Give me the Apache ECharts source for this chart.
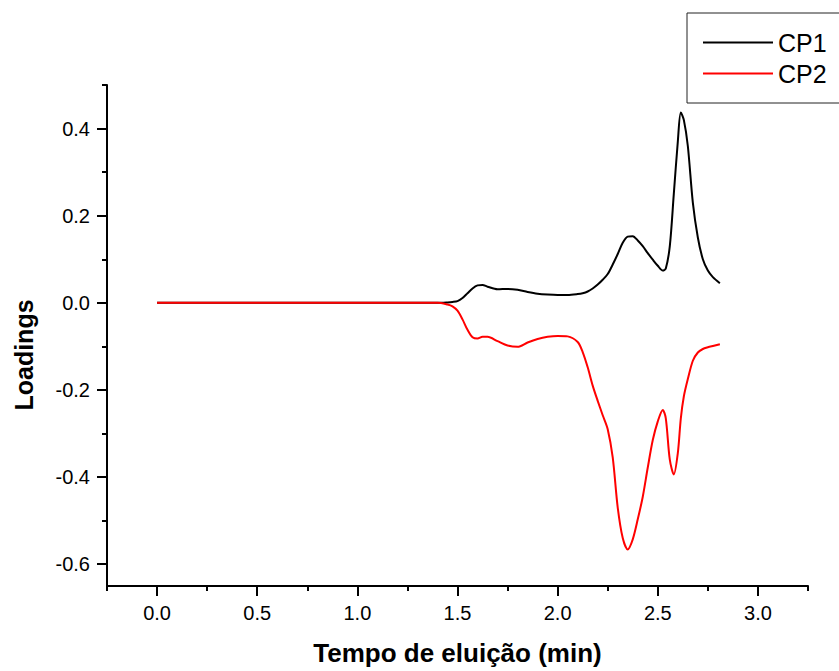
<!DOCTYPE html>
<html>
<head>
<meta charset="utf-8">
<script src="https://cdn.jsdelivr.net/npm/echarts@6/dist/echarts.min.js"></script>
<style>html,body{margin:0;padding:0;background:#fff}#c{width:839px;height:671px}</style>
</head>
<body>
<div id="c"></div>
<script>
var time = [0,0.1,0.2,0.3,0.4,0.5,0.6,0.7,0.8,0.9,1.0,1.1,1.2,1.3,1.4,
  1.45,1.475,1.5,1.525,1.55,1.575,1.6,1.625,1.65,
  1.7,1.75,1.8,1.85,1.9,1.95,2.0,2.05,2.1,
  2.125,2.15,2.175,2.2,2.225,2.25,2.275,2.3,2.325,2.35,2.375,2.4,2.425,2.45,2.475,2.5,2.525,
  2.54,2.56,2.58,2.6,2.615,2.63,2.65,
  2.675,2.7,2.725,2.75,2.775,2.81];
var cp1 = [0,0,0,0,0,0,0,0,0,0,0,0,0,0,0,
  0.001,0.002,0.004,0.011,0.022,0.033,0.040,0.041,0.037,
  0.031,0.032,0.030,0.025,0.021,0.019,0.018,0.018,0.020,
  0.022,0.026,0.033,0.042,0.053,0.066,0.088,0.112,0.138,0.152,0.153,0.143,0.130,0.114,0.099,0.085,0.074,
  0.079,0.13,0.25,0.37,0.437,0.42,0.36,
  0.23,0.15,0.10,0.074,0.059,0.045];
var cp2 = [0,0,0,0,0,0,0,0,0,0,0,0,0,0,0,
  -0.004,-0.008,-0.018,-0.038,-0.062,-0.079,-0.082,-0.078,-0.078,
  -0.088,-0.098,-0.101,-0.091,-0.083,-0.078,-0.076,-0.077,-0.090,
  -0.113,-0.148,-0.19,-0.225,-0.258,-0.29,-0.355,-0.47,-0.54,-0.566,-0.543,-0.497,-0.445,-0.378,-0.315,-0.272,-0.246,
  -0.265,-0.36,-0.394,-0.345,-0.265,-0.215,-0.175,
  -0.133,-0.114,-0.106,-0.102,-0.099,-0.095];
var xMajor = [0,0.5,1.0,1.5,2.0,2.5,3.0];
var xMinor = [-0.25,0.25,0.75,1.25,1.75,2.25,2.75,3.25];
var yMajor = [-0.6,-0.4,-0.2,0,0.2,0.4];
var yMinor = [-0.5,-0.3,-0.1,0.1,0.3,0.5];
var xTitle = 'Tempo de eluição (min)';
var yTitle = 'Loadings';

var FONT = 'Liberation Sans, Arial, sans-serif';
var chart = echarts.init(document.getElementById('c'), null, {renderer: 'svg'});
function pairs(v){ return time.map(function(t,i){ return [t, v[i]]; }); }
var axisLine = {show: true, onZero: false, lineStyle: {color: '#000', width: 2}};
chart.setOption({
  animation: false,
  backgroundColor: '#fff',
  grid: {left: 107, right: 31, top: 85, bottom: 81, containLabel: false},
  legend: {
    orient: 'vertical', left: 687, top: 13,
    padding: [17, 30, 17, 16], itemGap: 6,
    itemWidth: 70, itemHeight: 2, icon: 'rect',
    borderColor: '#222', borderWidth: 1,
    textStyle: {fontFamily: FONT, fontSize: 25, color: '#000', lineHeight: 24},
    data: ['CP1', 'CP2']
  },
  xAxis: [{
    type: 'value', min: -0.25, max: 3.25, position: 'bottom',
    axisLine: axisLine,
    axisTick: {show: true, inside: false, length: 10, customValues: xMajor, lineStyle: {color: '#000', width: 2}},
    axisLabel: {customValues: xMajor, margin: 17, fontFamily: FONT, fontSize: 20, color: '#000',
      formatter: function(v){ return v.toFixed(1); }},
    splitLine: {show: false},
    name: xTitle, nameLocation: 'middle', nameGap: 54,
    nameTextStyle: {fontFamily: FONT, fontSize: 26, fontWeight: 'bold', color: '#000'}
  }, {
    type: 'value', min: -0.25, max: 3.25, position: 'bottom',
    axisLine: {show: false, onZero: false},
    axisTick: {show: true, length: 5, customValues: xMinor, lineStyle: {color: '#000', width: 2}},
    axisLabel: {show: false}, splitLine: {show: false}
  }],
  yAxis: [{
    type: 'value', min: -0.65, max: 0.5, position: 'left',
    axisLine: axisLine,
    axisTick: {show: true, inside: false, length: 10, customValues: yMajor, lineStyle: {color: '#000', width: 2}},
    axisLabel: {customValues: yMajor, margin: 17, fontFamily: FONT, fontSize: 20, color: '#000',
      formatter: function(v){ return v.toFixed(1); }},
    splitLine: {show: false}
  }, {
    type: 'value', min: -0.65, max: 0.5, position: 'left',
    axisLine: {show: false, onZero: false},
    axisTick: {show: true, length: 5, customValues: yMinor, lineStyle: {color: '#000', width: 2}},
    axisLabel: {show: false}, splitLine: {show: false}
  }],
  graphic: [{
    type: 'text', x: 24, y: 355, rotation: Math.PI / 2,
    style: {text: yTitle, font: 'bold 25px ' + FONT, fill: '#000', textAlign: 'center', textVerticalAlign: 'middle'}
  }],
  series: [{
    name: 'CP1', type: 'line', xAxisIndex: 0, yAxisIndex: 0,
    data: pairs(cp1), symbol: 'none', smooth: 0.3,
    lineStyle: {color: '#000', width: 2}, itemStyle: {color: '#000'}
  }, {
    name: 'CP2', type: 'line', xAxisIndex: 0, yAxisIndex: 0,
    data: pairs(cp2), symbol: 'none', smooth: 0.3,
    lineStyle: {color: '#ff0000', width: 2}, itemStyle: {color: '#ff0000'}
  }]
});
</script>
</body>
</html>
